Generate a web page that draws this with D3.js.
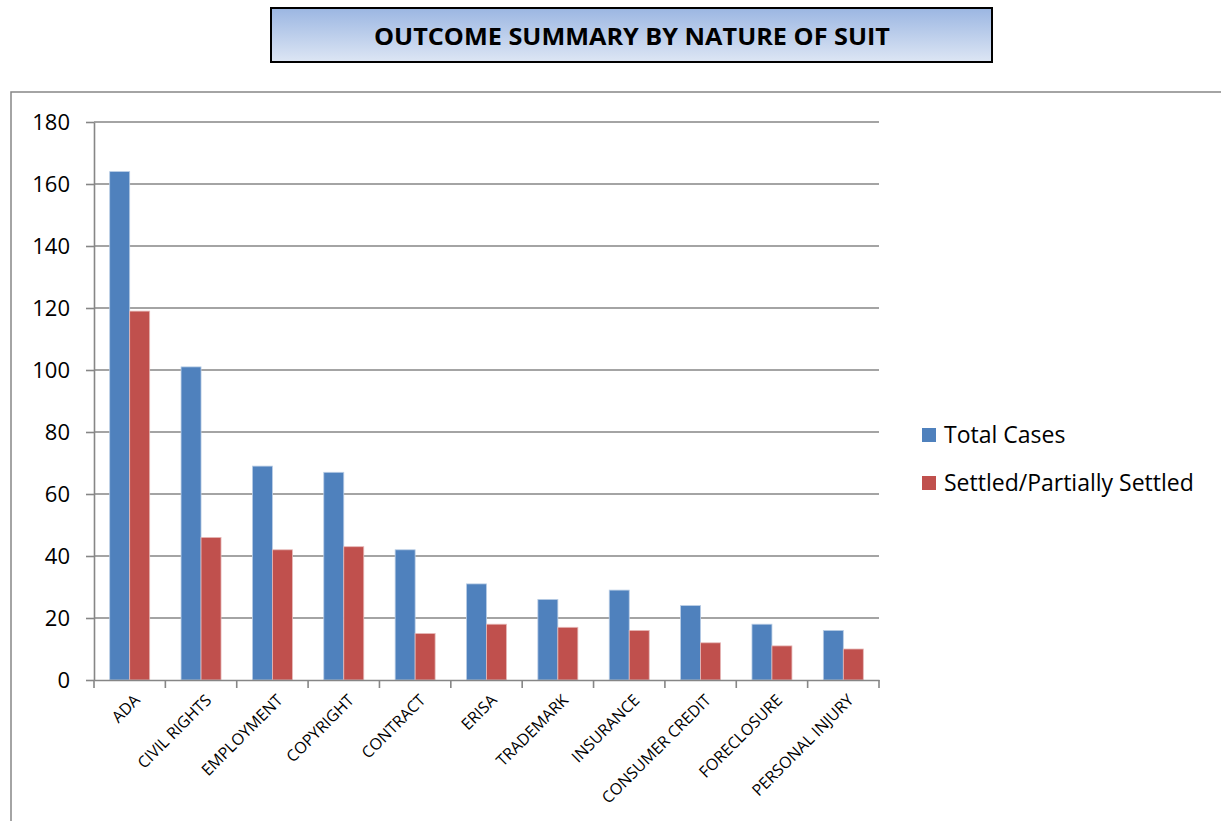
<!DOCTYPE html>
<html>
<head>
<meta charset="utf-8">
<script src="https://cdn.jsdelivr.net/npm/d3@7"></script>
<style>
  body { margin: 0; background: #fff; }
  svg { display: block; font-family: "Open Sans", "DejaVu Sans", sans-serif; }
  .grid line { stroke: #868686; stroke-width: 1.6; }
  .axis path, .axis line { stroke: #868686; stroke-width: 1.6; }
  .axis text { fill: #000; }
</style>
</head>
<body>
<div id="chart"></div>
<script>
var categories = ["ADA", "CIVIL RIGHTS", "EMPLOYMENT", "COPYRIGHT", "CONTRACT", "ERISA",
  "TRADEMARK", "INSURANCE", "CONSUMER CREDIT", "FORECLOSURE", "PERSONAL INJURY"];
var total_cases = [164, 101, 69, 67, 42, 31, 26, 29, 24, 18, 16];
var settled = [119, 46, 42, 43, 15, 18, 17, 16, 12, 11, 10];
var series_names = ["Total Cases", "Settled/Partially Settled"];
var series_colors = ["#4F81BD", "#C0504D"];
var y_ticks = [0, 20, 40, 60, 80, 100, 120, 140, 160, 180];

var width = 1221, height = 821;
var plot = { left: 94, right: 879, top: 122, bottom: 680 };

var svg = d3.select("#chart").append("svg")
    .attr("width", width)
    .attr("height", height);

// title box with gradient
var grad = svg.append("defs").append("linearGradient")
    .attr("id", "titleGrad")
    .attr("x1", 0).attr("y1", 0).attr("x2", 0).attr("y2", 1);
grad.append("stop").attr("offset", "0%").attr("stop-color", "#9BB6E2");
grad.append("stop").attr("offset", "100%").attr("stop-color", "#DDE6F4");

svg.append("rect")
    .attr("x", 271).attr("y", 8)
    .attr("width", 721).attr("height", 54)
    .attr("fill", "url(#titleGrad)")
    .attr("stroke", "#000")
    .attr("stroke-width", 2);

svg.append("text")
    .attr("x", 632).attr("y", 45)
    .attr("text-anchor", "middle")
    .attr("font-weight", "bold")
    .attr("font-size", 23)
    .attr("textLength", 516)
    .attr("lengthAdjust", "spacingAndGlyphs")
    .text("OUTCOME SUMMARY BY NATURE OF SUIT");

// chart frame
svg.append("rect")
    .attr("x", 11).attr("y", 92)
    .attr("width", 1240).attr("height", 760)
    .attr("fill", "none")
    .attr("stroke", "#868686")
    .attr("stroke-width", 1.5);

var x = d3.scaleBand()
    .domain(categories)
    .range([plot.left, plot.right])
    .padding(0);

var x_inner = d3.scaleBand()
    .domain(series_names)
    .range([0, x.bandwidth()])
    .paddingInner(0)
    .paddingOuter(0.785);

var y = d3.scaleLinear()
    .domain([0, 180])
    .range([plot.bottom, plot.top]);

// gridlines
svg.append("g")
    .attr("class", "grid")
    .selectAll("line")
    .data(y_ticks.filter(function(d){ return d > 0; }))
  .enter().append("line")
    .attr("x1", plot.left).attr("x2", plot.right)
    .attr("y1", function(d){ return y(d); })
    .attr("y2", function(d){ return y(d); });

// bars
var rows = categories.map(function(c, i){
  return { cat: c, values: [total_cases[i], settled[i]] };
});

var groups = svg.append("g").selectAll("g")
    .data(rows)
  .enter().append("g")
    .attr("transform", function(d){ return "translate(" + x(d.cat) + ",0)"; });

groups.selectAll("rect")
    .data(function(d){ return d.values.map(function(v, j){ return { name: series_names[j], value: v, j: j }; }); })
  .enter().append("rect")
    .attr("x", function(d){ return x_inner(d.name); })
    .attr("width", x_inner.bandwidth())
    .attr("y", function(d){ return y(d.value); })
    .attr("height", function(d){ return y(0) - y(d.value); })
    .attr("fill", function(d){ return series_colors[d.j]; })
    .attr("stroke", function(d){ return d.j == 0 ? "#B9CDE5" : "#E6B9B8"; })
    .attr("stroke-width", 0.8);

// y axis
var y_axis = svg.append("g")
    .attr("class", "axis")
    .attr("transform", "translate(" + plot.left + ",0)")
    .call(d3.axisLeft(y).tickValues(y_ticks).tickSize(8).tickSizeOuter(0).tickPadding(16));
y_axis.selectAll("text").attr("font-size", 22).attr("font-family", "Open Sans, sans-serif");

// x axis
var x_axis = svg.append("g")
    .attr("class", "axis")
    .attr("transform", "translate(0," + plot.bottom + ")")
    .call(d3.axisBottom(x).tickSize(0).tickSizeOuter(0));
x_axis.selectAll(".tick line").remove();

// x ticks at band boundaries
svg.append("g")
    .attr("class", "axis")
    .selectAll("line")
    .data(categories.concat(["end"]))
  .enter().append("line")
    .attr("x1", function(d, i){ return plot.left + i * x.step(); })
    .attr("x2", function(d, i){ return plot.left + i * x.step(); })
    .attr("y1", plot.bottom)
    .attr("y2", plot.bottom + 8);

x_axis.selectAll("text")
    .attr("font-size", 16)
    .attr("font-family", "Open Sans, sans-serif")
    .attr("text-anchor", "end")
    .attr("dx", -7)
    .attr("dy", 0)
    .attr("y", 23)
    .attr("transform", "rotate(-45)");

// legend
var legend = svg.append("g").selectAll("g")
    .data(series_names)
  .enter().append("g")
    .attr("transform", function(d, i){ return "translate(922," + (428 + i * 48) + ")"; });

legend.append("rect")
    .attr("width", 14).attr("height", 14)
    .attr("fill", function(d, i){ return series_colors[i]; });

legend.append("text")
    .attr("x", 22).attr("y", 15)
    .attr("font-size", 23)
    .text(function(d){ return d; });
</script>
</body>
</html>
